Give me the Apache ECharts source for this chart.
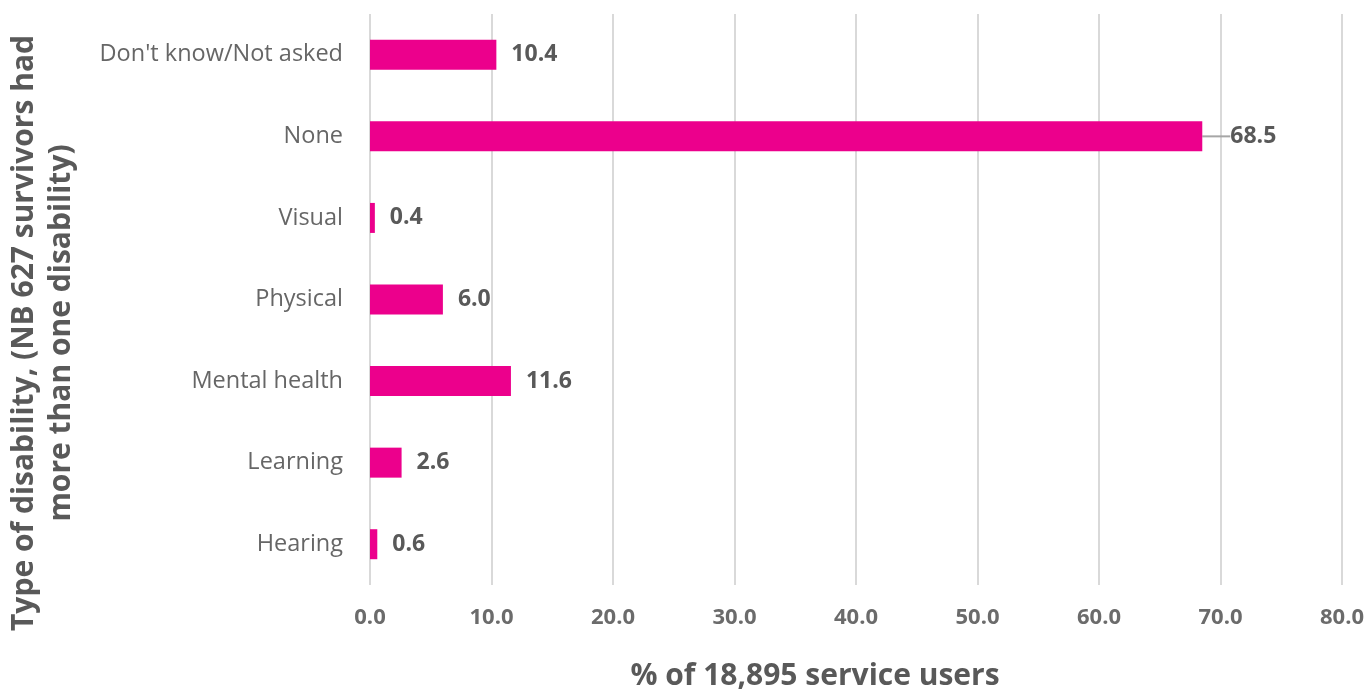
<!DOCTYPE html>
<html>
<head>
<meta charset="utf-8">
<script src="https://cdn.jsdelivr.net/npm/echarts@6/dist/echarts.min.js"></script>
<style>
  html, body { margin: 0; padding: 0; background: #fff; }
  #chart { width: 1371px; height: 691px; }
</style>
</head>
<body>
<div id="chart"></div>
<script>
// categories top to bottom
const categories = ['Don\'t know/Not asked', 'None', 'Visual', 'Physical', 'Mental health', 'Learning', 'Hearing'];
const values = [10.4, 68.5, 0.4, 6.0, 11.6, 2.6, 0.6];
const xTicks = [0, 10, 20, 30, 40, 50, 60, 70, 80];

const textGrey = '#595959';
const font = '"Open Sans", "Noto Sans", sans-serif';

let chart = echarts.init(document.getElementById('chart'), null, { renderer: 'canvas' });
let option = {
    animation: false,
    textStyle: { fontFamily: font },
    grid: { left: 370, right: 29, top: 14, bottom: 106 },
    xAxis: {
        type: 'value',
        min: xTicks[0],
        max: xTicks[xTicks.length - 1],
        interval: 10,
        axisLine: { show: false },
        axisTick: { show: false },
        splitLine: { lineStyle: { color: '#d9d9d9', width: 2 } },
        axisLabel: {
            margin: 22,
            color: '#6b6b6b',
            fontSize: 22,
            fontWeight: 'bold',
            fontFamily: font,
            formatter: v => v.toFixed(1),
        },
    },
    yAxis: {
        type: 'category',
        inverse: true,
        data: categories,
        axisLine: { show: false },
        axisTick: { show: false },
        axisLabel: {
            margin: 27,
            color: '#666666',
            fontSize: 23.5,
            fontFamily: font,
        },
    },
    series: [{
        type: 'bar',
        data: values.map((v, i) => i === 1 ? { value: v, labelLine: { show: true } } : v),
        barWidth: 30,
        itemStyle: { color: '#EC008C' },
        label: {
            show: true,
            position: 'right',
            distance: 15,
            color: textGrey,
            fontSize: 23,
            fontWeight: 'bold',
            fontFamily: font,
            formatter: p => p.value.toFixed(1),
        },
        labelLine: { lineStyle: { color: '#a6a6a6', width: 2 } },
        labelLayout: function (params) {
            if (params.dataIndex === 1) {
                return { dx: 13 };
            }
            return {};
        },
    }],
    graphic: [
        {
            type: 'text',
            x: 43,
            y: 333,
            rotation: Math.PI / 2,
            style: {
                text: 'Type of disability, (NB 627 survivors had\nmore than one disability)',
                fill: textGrey,
                font: 'bold 30px ' + font,
                textAlign: 'center',
                textVerticalAlign: 'middle',
                lineHeight: 37,
            },
        },
        {
            type: 'text',
            x: 815,
            y: 676,
            style: {
                text: '% of 18,895 service users',
                fill: textGrey,
                font: 'bold 30px ' + font,
                textAlign: 'center',
                textVerticalAlign: 'middle',
            },
        },
    ],
};
chart.setOption(option);
</script>
</body>
</html>
